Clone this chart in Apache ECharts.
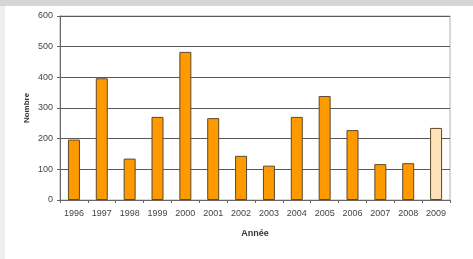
<!DOCTYPE html>
<html>
<head>
<meta charset="utf-8">
<script src="https://cdn.jsdelivr.net/npm/echarts@6/dist/echarts.min.js"></script>
<style>
  html, body { margin: 0; padding: 0; background: #fff; }
  #chart { width: 473px; height: 259px; }
</style>
</head>
<body>
<div id="chart"></div>
<script>
// données
const annees = ['1996', '1997', '1998', '1999', '2000', '2001', '2002', '2003', '2004', '2005', '2006', '2007', '2008', '2009'];
const nombres = [197, 397, 135, 271, 483, 267, 144, 112, 271, 339, 228, 117, 120, 235];
const yTicks = [0, 100, 200, 300, 400, 500, 600];

const chart = echarts.init(document.getElementById('chart'), null, { renderer: 'canvas' });

// dernière année (2009) en couleur claire
const barData = nombres.map(function (v, i) {
  if (i == nombres.length - 1) {
    return { value: v, itemStyle: { color: '#ffe2b8' } };
  }
  return v;
});

const option = {
  backgroundColor: '#ffffff',
  animation: false,
  textStyle: { fontFamily: 'Arial' },
  // cadre gris en haut et à gauche
  graphic: [
    { type: 'rect', shape: { x: 0, y: 0, width: 473, height: 6 }, style: { fill: '#d6d6d6' }, silent: true },
    { type: 'rect', shape: { x: 0, y: 6, width: 5, height: 253 }, style: { fill: '#efefef' }, silent: true }
  ],
  grid: {
    left: 60,
    right: 23,
    top: 16,
    bottom: 59,
    show: true,
    borderColor: '#b0b0b0',
    borderWidth: 1
  },
  xAxis: {
    type: 'category',
    data: annees,
    name: 'Année',
    nameLocation: 'middle',
    nameGap: 29,
    nameTextStyle: { fontSize: 9, fontWeight: 'bold', color: '#333' },
    axisLine: { lineStyle: { color: '#666', width: 1 } },
    axisTick: { show: true, alignWithLabel: false, length: 3, lineStyle: { color: '#666' } },
    axisLabel: { fontSize: 9, color: '#444', margin: 9 },
    splitLine: { show: false }
  },
  yAxis: {
    type: 'value',
    min: 0,
    max: 600,
    interval: 100,
    name: 'Nombre',
    nameLocation: 'middle',
    nameGap: 29,
    nameMoveOverlap: false,
    nameRotate: 90,
    nameTextStyle: { fontSize: 8, fontWeight: 'bold', color: '#333' },
    axisLine: { show: true, lineStyle: { color: '#666', width: 1 } },
    axisTick: { show: true, length: 3, lineStyle: { color: '#666' } },
    axisLabel: {
      fontSize: 9,
      color: '#444',
      margin: 7,
      formatter: function (v) { return yTicks.indexOf(v) >= 0 ? String(v) : ''; }
    },
    splitLine: { show: true, lineStyle: { color: '#5a5a5a', width: 1 } }
  },
  series: [{
    type: 'bar',
    data: barData,
    barWidth: 12,
    itemStyle: {
      color: '#ff9900',
      borderColor: '#5a4a30',
      borderWidth: 1
    }
  }]
};

chart.setOption(option);
</script>
</body>
</html>
